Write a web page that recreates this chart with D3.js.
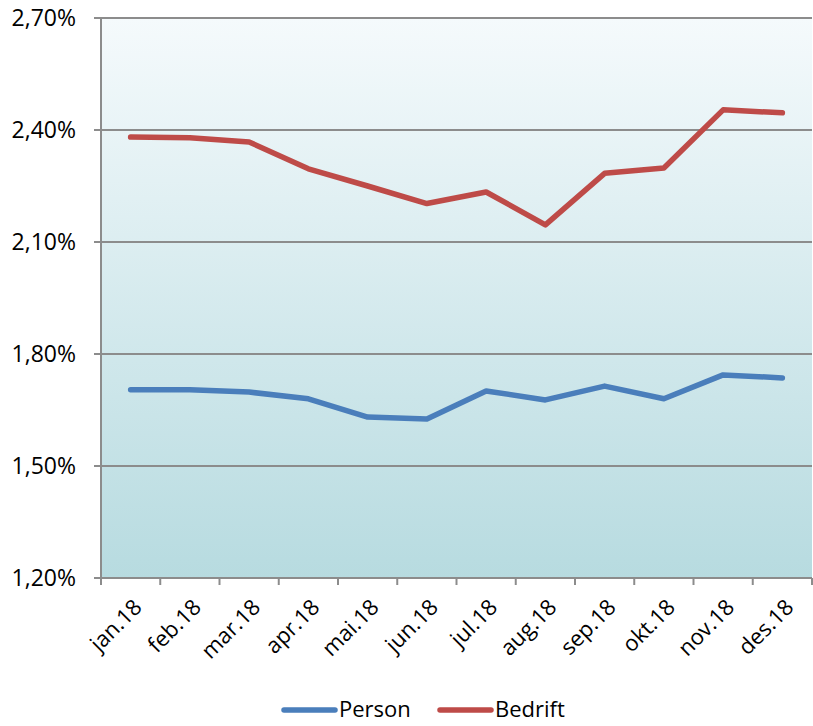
<!DOCTYPE html>
<html>
<head>
<meta charset="utf-8">
<script src="https://cdn.jsdelivr.net/npm/d3@7"></script>
<style>
  body { margin: 0; background: #fff; }
  text { font-family: "Open Sans", "Noto Sans", sans-serif; fill: #000; }
</style>
</head>
<body>
<svg id="chart" width="813" height="726"></svg>
<script>
const months = ["jan.18", "feb.18", "mar.18", "apr.18", "mai.18", "jun.18",
                "jul.18", "aug.18", "sep.18", "okt.18", "nov.18", "des.18"];
const person = [1.704, 1.704, 1.698, 1.680, 1.631, 1.626, 1.701, 1.677, 1.714, 1.680, 1.744, 1.736];
const bedrift = [2.381, 2.379, 2.368, 2.296, 2.250, 2.203, 2.234, 2.146, 2.284, 2.298, 2.454, 2.446];
const yTicks = [1.2, 1.5, 1.8, 2.1, 2.4, 2.7];

const svg = d3.select("#chart");
const margin = { top: 18, right: 1, bottom: 148, left: 101 };
const W = 813, H = 726;
const width = W - margin.left - margin.right;
const height = H - margin.top - margin.bottom;

const defs = svg.append("defs");
const grad = defs.append("linearGradient")
  .attr("id", "bg").attr("x1", 0).attr("y1", 0).attr("x2", 0).attr("y2", 1);
grad.append("stop").attr("offset", "0%").attr("stop-color", "#f5fafc");
grad.append("stop").attr("offset", "100%").attr("stop-color", "#b7dbe0");

const g = svg.append("g").attr("transform", `translate(${margin.left},${margin.top})`);

const x = d3.scaleBand().domain(months).range([0, width]);
const y = d3.scaleLinear().domain([1.2, 2.7]).range([height, 0]);

g.append("rect")
  .attr("width", width).attr("height", height)
  .attr("fill", "url(#bg)");

// gridlines
g.append("g")
  .selectAll("line")
  .data(yTicks)
  .join("line")
  .attr("x1", -7).attr("x2", width)
  .attr("y1", d => y(d)).attr("y2", d => y(d))
  .attr("stroke", "#8c8c8c").attr("stroke-width", 2);

// y labels
g.append("g")
  .selectAll("text")
  .data(yTicks)
  .join("text")
  .attr("x", -25).attr("y", d => y(d))
  .attr("dy", "0.36em")
  .attr("text-anchor", "end")
  .style("font-size", "23px")
  .text(d => d.toFixed(2).replace(".", ",") + "%");

// left axis line
g.append("line")
  .attr("x1", 0).attr("x2", 0).attr("y1", 0).attr("y2", height)
  .attr("stroke", "#8c8c8c").attr("stroke-width", 2);

// x ticks at band boundaries
const bounds = months.map(m => x(m)).concat([width]);
g.append("g")
  .selectAll("line")
  .data(bounds)
  .join("line")
  .attr("x1", d => d).attr("x2", d => d)
  .attr("y1", height).attr("y2", height + 7)
  .attr("stroke", "#8c8c8c").attr("stroke-width", 2);

// x labels
g.append("g")
  .selectAll("text")
  .data(months)
  .join("text")
  .attr("transform", d => `translate(${x(d) + x.bandwidth() / 2 + 7},${height + 25}) rotate(-45)`)
  .attr("text-anchor", "end")
  .attr("dy", "0.36em")
  .style("font-size", "22px")
  .text(d => d);

const line = d3.line()
  .x((d, i) => x(months[i]) + x.bandwidth() / 2)
  .y(d => y(d));

const series = [
  { name: "Person", values: person, color: "#4a7ebb" },
  { name: "Bedrift", values: bedrift, color: "#be4b48" }
];

series.forEach(s => {
  g.append("path")
    .datum(s.values)
    .attr("fill", "none")
    .attr("stroke", s.color)
    .attr("stroke-width", 5.5)
    .attr("stroke-linecap", "round")
    .attr("stroke-linejoin", "round")
    .attr("d", line);
});

// legend
const legend = svg.append("g").attr("transform", "translate(282, 710)");
const legendX = [0, 156];
series.forEach((s, i) => {
  const lg = legend.append("g").attr("transform", `translate(${legendX[i]},0)`);
  lg.append("line")
    .attr("x1", 2).attr("x2", 53).attr("y1", 0).attr("y2", 0)
    .attr("stroke", s.color).attr("stroke-width", 5.5)
    .attr("stroke-linecap", "round");
  lg.append("text")
    .attr("x", 57).attr("y", 0).attr("dy", "0.34em")
    .style("font-size", "22px")
    .text(s.name);
});
</script>
</body>
</html>
